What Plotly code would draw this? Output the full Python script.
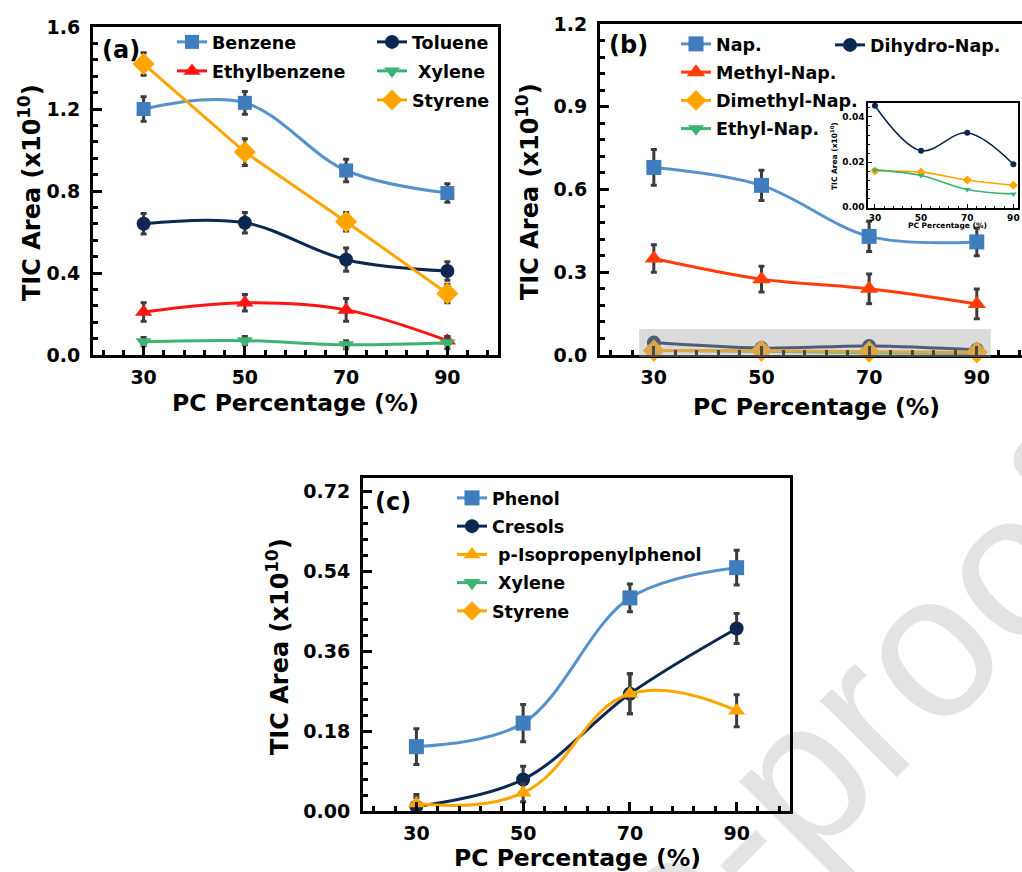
import plotly.graph_objects as go

# ---------------- data ----------------
pc = [30, 50, 70, 90]

# panel (a)
benzene = [1.20, 1.23, 0.90, 0.79]
benzene_err = [0.06, 0.055, 0.055, 0.045]
toluene = [0.64, 0.645, 0.465, 0.41]
toluene_err = [0.05, 0.05, 0.057, 0.045]
ethylbenzene = [0.21, 0.255, 0.22, 0.07]
ethylbenzene_err = [0.045, 0.04, 0.055, 0.02]
xylene_a = [0.065, 0.07, 0.05, 0.06]
xylene_a_err = [0.02, 0.02, 0.02, 0.03]
styrene_a = [1.42, 0.99, 0.65, 0.30]
styrene_a_err = [0.055, 0.065, 0.045, 0.045]

# panel (b)
nap = [0.68, 0.615, 0.43, 0.41]
nap_err = [0.065, 0.055, 0.055, 0.05]
methyl_nap = [0.35, 0.275, 0.24, 0.185]
methyl_nap_err = [0.05, 0.047, 0.054, 0.054]
dihydro_nap = [0.045, 0.025, 0.033, 0.019]
dimethyl_nap = [0.016, 0.0155, 0.012, 0.0097]
ethyl_nap = [0.0165, 0.014, 0.0078, 0.0058]

# panel (c)
phenol = [0.145, 0.198, 0.48, 0.548]
phenol_err = [0.04, 0.042, 0.031, 0.039]
cresols = [0.01, 0.071, 0.264, 0.411]
cresols_err = [0.02, 0.03, 0.045, 0.034]
isopropenylphenol = [0.017, 0.041, 0.264, 0.226]
isopropenylphenol_err = [0.02, 0.02, 0.045, 0.036]

y_title = "TIC Area (x10<sup>10</sup>)"
x_title = "PC Percentage (%)"

# ---------------- styles ----------------
FONT = "DejaVu Sans, Arial, sans-serif"
BLUE_L, BLUE_M = "#5592cc", "#3f7dbd"
NAVY = "#0b2850"
RED = "#ff1414"
ORED = "#ff3c0a"
GREEN = "#3cb371"
ORANGE = "#ffa500"
ERRC = "#3c3c3c"

W, H = 1022, 872


def px_x(v):
    return v / W


def px_y(v):
    return 1 - v / H


fig = go.Figure()


def add(name, y, err, color, mcolor, symbol, size, xa, ya, legend,
        shape="spline", showlegend=True, lw=3, smoothing=1.0, rank=1000):
    tr = dict(
        x=pc, y=y, name=name, mode="lines+markers",
        line=dict(color=color, width=lw, shape=shape, smoothing=smoothing),
        marker=dict(color=mcolor, symbol=symbol, size=size),
        xaxis=xa, yaxis=ya, legend=legend, showlegend=showlegend,
        legendgroup=name, cliponaxis=False, legendrank=rank,
    )
    if err is not None:
        tr["error_y"] = dict(type="data", array=err, visible=True,
                             color=ERRC, thickness=3, width=3)
    fig.add_trace(go.Scatter(**tr))


# (a)
add("Benzene", benzene, benzene_err, BLUE_L, BLUE_M, "square", 14, "x", "y", "legend")
add("Ethylbenzene", ethylbenzene, ethylbenzene_err, RED, RED, "triangle-up", 15, "x", "y", "legend")
add("Toluene", toluene, toluene_err, NAVY, NAVY, "circle", 14, "x", "y", "legend2")
add("\u00a0Xylene", xylene_a, xylene_a_err, GREEN, GREEN, "triangle-down", 14, "x", "y", "legend2")
add("Styrene", styrene_a, styrene_a_err, ORANGE, ORANGE, "diamond", 17, "x", "y", "legend2", shape="linear")

# (b) main
add("Nap.", nap, nap_err, BLUE_L, BLUE_M, "square", 15, "x2", "y2", "legend3", rank=1)
add("Methyl-Nap.", methyl_nap, methyl_nap_err, ORED, ORED, "triangle-up", 16, "x2", "y2", "legend3", rank=2)
add("Ethyl-Nap.", ethyl_nap, None, GREEN, GREEN, "triangle-down", 14, "x2", "y2", "legend3", rank=4)
add("Dihydro-Nap.", dihydro_nap, None, NAVY, NAVY, "circle", 14, "x2", "y2", "legend4", rank=5)
add("Dimethyl-Nap.", dimethyl_nap, None, ORANGE, ORANGE, "diamond", 17, "x2", "y2", "legend3", rank=3)

# (b) inset
add("Dihydro-Nap. inset", dihydro_nap, None, NAVY, NAVY, "circle", 6, "x3", "y3", "legend4", showlegend=False, lw=1.6)
add("Dimethyl-Nap. inset", dimethyl_nap, None, ORANGE, ORANGE, "diamond", 7, "x3", "y3", "legend4", showlegend=False, lw=1.6)
add("Ethyl-Nap. inset", ethyl_nap, None, GREEN, GREEN, "triangle-down", 6, "x3", "y3", "legend4", showlegend=False, lw=1.6)

# (c)
add("Phenol", phenol, phenol_err, BLUE_L, BLUE_M, "square", 15, "x4", "y4", "legend5")
add("Cresols", cresols, cresols_err, NAVY, NAVY, "circle", 14, "x4", "y4", "legend5")
add("\u00a0p-Isopropenylphenol", isopropenylphenol, isopropenylphenol_err, ORANGE, ORANGE,
    "triangle-up", 15, "x4", "y4", "legend5", smoothing=1.2)
for nm, col, sym in [("\u00a0Xylene", GREEN, "triangle-down"), ("Styrene", ORANGE, "diamond")]:
    fig.add_trace(go.Scatter(x=[None], y=[None], name=nm, mode="lines+markers",
                             line=dict(color=col, width=3),
                             marker=dict(color=col, symbol=sym, size=15),
                             xaxis="x4", yaxis="y4", legend="legend5", legendgroup=nm + "c"))


def axis(domain, rng, dtick, tick0, mdtick, fsize, anchor, lw=3, tl=9, mtl=5, tw=3,
         standoff=None):
    d = dict(domain=domain, range=rng, dtick=dtick, tick0=tick0, anchor=anchor,
             showline=True, linecolor="black", linewidth=lw, mirror=True,
             ticks="inside", ticklen=tl, tickwidth=tw, tickcolor="black",
             showgrid=False, zeroline=False, automargin=False,
             tickfont=dict(family=FONT, size=fsize, color="black", weight="bold"),
             minor=dict(ticks="inside", ticklen=mtl, tickwidth=tw, tickcolor="black",
                        dtick=mdtick, tick0=tick0, showgrid=False))
    if standoff is not None:
        d["ticklabelstandoff"] = standoff
    return d


layout = dict(
    width=W, height=H, margin=dict(l=0, r=0, t=0, b=0, autoexpand=False),
    paper_bgcolor="white", plot_bgcolor="rgba(0,0,0,0)",
    font=dict(family=FONT, color="black"),
    xaxis=axis([px_x(93), px_x(498)], [20, 100], 20, 30, 4, 19, "y", standoff=3),
    yaxis=axis([px_y(355), px_y(27)], [0, 1.6], 0.4, 0, 0.08, 19, "x", standoff=6),
    xaxis2=axis([px_x(600), 1.0], [20, 98.4], 20, 30, 4, 19, "y2", standoff=3),
    yaxis2=axis([px_y(355), px_y(24)], [0, 1.2], 0.3, 0, 0.06, 19, "x2", standoff=6),
    xaxis3=axis([px_x(868), px_x(1018)], [27, 92], 20, 30, 4, 9, "y3", lw=1.5, tl=4, mtl=2, tw=1.2),
    yaxis3=axis([px_y(208), px_y(103)], [-0.0004, 0.0462], 0.02, 0, 0.004, 9, "x3", lw=1.5, tl=4, mtl=2, tw=1.2),
    xaxis4=axis([px_x(363), px_x(790)], [20, 100], 20, 30, 4, 19, "y4", standoff=3),
    yaxis4=axis([px_y(811), px_y(478)], [0, 0.75], 0.18, 0, 0.036, 19, "x4", standoff=6),
)
layout["yaxis3"]["tickformat"] = ".2f"
layout["yaxis4"]["tickformat"] = ".2f"
layout["yaxis"]["tickformat"] = ".1f"
layout["yaxis2"]["tickformat"] = ".1f"


def legend(xp, yp, gap=3.25, size=17.5):
    return dict(x=px_x(xp), y=px_y(yp), xanchor="left", yanchor="top",
                bgcolor="rgba(0,0,0,0)", borderwidth=0,
                font=dict(family=FONT, size=size, color="black", weight="bold"),
                tracegroupgap=gap, traceorder="grouped", itemwidth=30)


layout["legend"] = legend(172, 24)
layout["legend2"] = legend(372, 24)
layout["legend3"] = legend(676, 26, gap=2.5)
layout["legend4"] = legend(830, 27)
layout["legend5"] = legend(452, 480, gap=2.5)

ann = []


def text(t, x, y, size, angle=0, weight="bold"):
    ann.append(dict(text=t, x=px_x(x), y=px_y(y), xref="paper", yref="paper",
                    showarrow=False, textangle=angle, xanchor="center", yanchor="middle",
                    font=dict(family=FONT, size=size, color="black", weight=weight)))


text("(a)", 121, 50, 24)
text("(b)", 628, 45, 24)
text("(c)", 393, 502, 24)
text(y_title, 30, 193, 24, -90)
text(y_title, 528, 192, 24, -90)
text(y_title, 278, 647, 24, -90)
text(x_title, 295, 403, 23.5)
text(x_title, 816, 407, 23.5)
text(x_title, 577, 858, 23.5)
text(y_title, 834, 156, 7.5, -90)
text(x_title, 947, 226, 7.5)
layout["annotations"] = ann

layout["shapes"] = [
    # watermark (drawn below everything)
    dict(type="rect", xref="paper", yref="paper", x0=px_x(843) - 0.01, x1=px_x(843) + 0.01,
         y0=px_y(703) - 0.01, y1=px_y(703) + 0.01, line=dict(width=0),
         fillcolor="rgba(0,0,0,0)", layer="below",
         label=dict(text="e-proof", textangle=-45, textposition="middle center",
                    font=dict(family="Liberation Sans, Arial, sans-serif", size=205, color="#e3e3e3"))),
    # highlight box in panel (b)
    dict(type="rect", xref="x2", yref="paper", x0=27.25, x1=92.6,
         y0=px_y(357), y1=px_y(329), line=dict(width=0),
         fillcolor="rgba(170,170,170,0.42)", layer="above"),
]

fig.update_layout(**layout)
fig.write_html("out.html", post_script="document.body.style.margin='0';",
               config={"displayModeBar": False})
